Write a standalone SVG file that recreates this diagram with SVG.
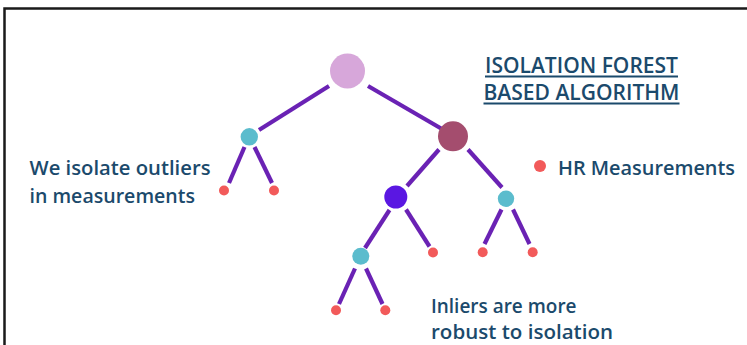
<svg xmlns="http://www.w3.org/2000/svg" width="747" height="345" viewBox="0 0 747 345">
  <style>
    .edge { stroke: #6a22b4; stroke-width: 4.2; stroke-linecap: butt; fill: none; }
    .leaf { fill: #f25a5a; }
    .split { fill: #5bbccd; }
    .label { font-family: "Open Sans", "Liberation Sans", sans-serif; font-weight: 600; fill: #1b4a6c; font-size: 20px; }
    .title { font-family: "Open Sans", "Liberation Sans", sans-serif; font-weight: 600; fill: #1b4a6c; font-size: 21.5px; }
    .rule { stroke: #1b4a6c; stroke-width: 2; }
  </style>

  <rect x="0" y="0" width="747" height="345" fill="#ffffff"/>
  <!-- frame: top and left edges only -->
  <path d="M4.5 345 V8.5 H747" fill="none" stroke="#1a1a1a" stroke-width="2.5"/>

  <!-- connectors -->
  <g id="connectors">
    <line class="edge" x1="329" y1="86" x2="259" y2="130"/>
    <line class="edge" x1="368" y1="86" x2="442" y2="129"/>
    <line class="edge" x1="244.5" y1="147" x2="229" y2="183"/>
    <line class="edge" x1="254.5" y1="147" x2="272" y2="183"/>
    <line class="edge" x1="439" y1="149.5" x2="407" y2="186"/>
    <line class="edge" x1="468" y1="149.5" x2="502" y2="187.5"/>
    <line class="edge" x1="389.5" y1="210" x2="365" y2="248"/>
    <line class="edge" x1="406" y1="209.5" x2="429.5" y2="246.5"/>
    <line class="edge" x1="501.5" y1="209.5" x2="484.5" y2="244"/>
    <line class="edge" x1="513" y1="209.5" x2="529.5" y2="244"/>
    <line class="edge" x1="355" y1="268.5" x2="339" y2="304"/>
    <line class="edge" x1="366" y1="268.5" x2="382.5" y2="304"/>
  </g>

  <!-- nodes -->
  <g id="root"><circle cx="347.5" cy="71" r="17.5" fill="#d7a7da"/></g>
  <g id="n-left"><circle class="split" cx="249.3" cy="136.8" r="8.7"/></g>
  <g id="n-right"><circle cx="453" cy="136.3" r="15" fill="#a44d6e"/></g>
  <g id="n-mid"><circle cx="395.8" cy="197" r="11.5" fill="#5a17e2"/></g>
  <g id="n-right-b"><circle class="split" cx="506" cy="198.7" r="8.2"/></g>
  <g id="n-low"><circle class="split" cx="360.8" cy="256.3" r="8.5"/></g>

  <g id="leaf-1"><circle class="leaf" cx="224" cy="190.5" r="5"/></g>
  <g id="leaf-2"><circle class="leaf" cx="274" cy="190.5" r="5"/></g>
  <g id="leaf-3"><circle class="leaf" cx="433" cy="252.5" r="5"/></g>
  <g id="leaf-4"><circle class="leaf" cx="482.7" cy="252.3" r="5"/></g>
  <g id="leaf-5"><circle class="leaf" cx="532.7" cy="252.3" r="5"/></g>
  <g id="leaf-6"><circle class="leaf" cx="336" cy="310.3" r="5"/></g>
  <g id="leaf-7"><circle class="leaf" cx="385.3" cy="310.3" r="5"/></g>

  <!-- title -->
  <g id="title">
    <text class="title" x="485" y="73" textLength="193" lengthAdjust="spacingAndGlyphs">ISOLATION FOREST</text>
    <line class="rule" x1="485" y1="76.5" x2="678" y2="76.5"/>
    <text class="title" x="483.5" y="100" textLength="196" lengthAdjust="spacingAndGlyphs">BASED ALGORITHM</text>
    <line class="rule" x1="483.5" y1="103.5" x2="679.5" y2="103.5"/>
  </g>

  <!-- legend -->
  <g id="legend">
    <circle class="leaf" cx="540" cy="166" r="6"/>
    <text class="label" x="558" y="175" textLength="177" lengthAdjust="spacingAndGlyphs">HR Measurements</text>
  </g>

  <g id="note-outliers">
    <text class="label" x="29.5" y="175" textLength="181" lengthAdjust="spacingAndGlyphs">We isolate outliers</text>
    <text class="label" x="29.5" y="203" textLength="165.5" lengthAdjust="spacingAndGlyphs">in measurements</text>
  </g>

  <g id="note-inliers">
    <text class="label" x="431" y="312.5" textLength="145.5" lengthAdjust="spacingAndGlyphs">Inliers are more</text>
    <text class="label" x="431" y="338.5" textLength="182" lengthAdjust="spacingAndGlyphs">robust to isolation</text>
  </g>
</svg>
